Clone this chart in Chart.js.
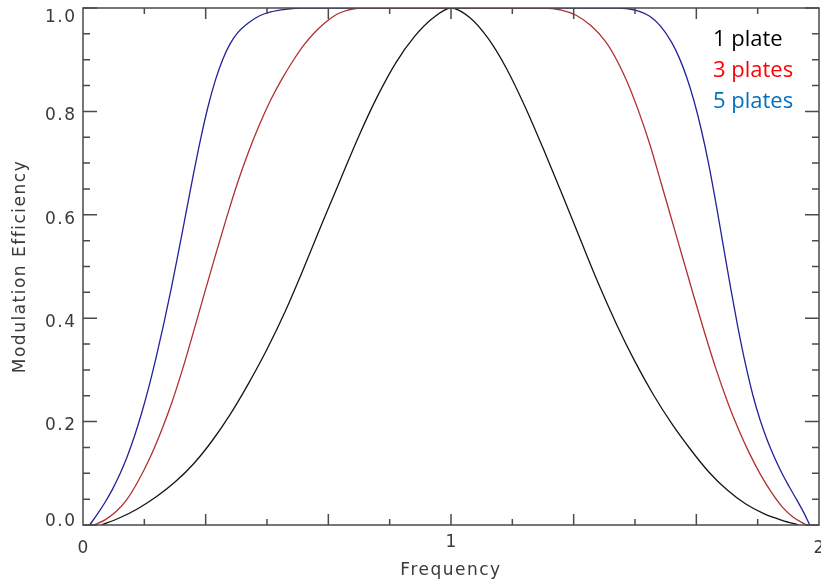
<!DOCTYPE html>
<html>
<head>
<meta charset="utf-8">
<script src="https://cdn.jsdelivr.net/npm/chart.js@4.4.1/dist/chart.umd.min.js"></script>
<style>
  html, body { margin: 0; padding: 0; background: #fff; }
</style>
</head>
<body>
<canvas id="chart" width="821" height="584"></canvas>
<script>
// 1 plate (black)
const freq1 = [0.05, 0.1, 0.15, 0.2, 0.25, 0.3, 0.35, 0.4, 0.45, 0.5, 0.55, 0.6, 0.65, 0.7, 0.75,
  0.8, 0.85, 0.9, 0.95, 1.0, 1.05, 1.1, 1.15, 1.2, 1.25, 1.3, 1.35, 1.4, 1.45, 1.5, 1.55, 1.6,
  1.65, 1.7, 1.75, 1.8, 1.85, 1.9, 1.944];
const eff1 = [0, 0.014, 0.032, 0.055, 0.083, 0.118, 0.162, 0.214, 0.274, 0.34, 0.414, 0.497,
  0.584, 0.669, 0.753, 0.829, 0.894, 0.944, 0.98, 1.0, 0.982, 0.942, 0.884, 0.811, 0.729, 0.643,
  0.555, 0.468, 0.388, 0.316, 0.252, 0.196, 0.147, 0.103, 0.068, 0.041, 0.022, 0.009, 0];

// 3 plates (red)
const freq3 = [0.03, 0.06, 0.09, 0.12, 0.15, 0.18, 0.21, 0.24, 0.27, 0.3, 0.33, 0.36, 0.39, 0.42,
  0.45, 0.48, 0.51, 0.54, 0.57, 0.6, 0.63, 0.66, 0.69, 0.72, 0.76, 0.85, 1.0, 1.15, 1.25, 1.3,
  1.34, 1.38, 1.42, 1.45, 1.48, 1.51, 1.54, 1.57, 1.6, 1.63, 1.66, 1.69, 1.72, 1.75, 1.78, 1.81,
  1.84, 1.87, 1.9, 1.93, 1.966];
const eff3 = [0, 0.01, 0.026, 0.05, 0.085, 0.127, 0.177, 0.234, 0.3, 0.373, 0.448, 0.522, 0.594,
  0.662, 0.722, 0.775, 0.822, 0.862, 0.897, 0.928, 0.953, 0.973, 0.988, 0.996, 1.0, 1.0, 1.0, 1.0,
  1.0, 0.996, 0.986, 0.966, 0.935, 0.9, 0.855, 0.8, 0.737, 0.664, 0.59, 0.516, 0.442, 0.37,
  0.302, 0.241, 0.187, 0.14, 0.099, 0.064, 0.035, 0.015, 0];

// 5 plates (blue)
const freq5 = [0.018, 0.04, 0.06, 0.08, 0.1, 0.12, 0.14, 0.16, 0.18, 0.2, 0.22, 0.24, 0.26, 0.28,
  0.3, 0.32, 0.34, 0.36, 0.38, 0.4, 0.42, 0.45, 0.48, 0.51, 0.55, 0.6, 1.0, 1.45, 1.5, 1.54,
  1.57, 1.6, 1.62, 1.64, 1.66, 1.68, 1.7, 1.72, 1.74, 1.76, 1.78, 1.8, 1.82, 1.84, 1.86, 1.88,
  1.9, 1.92, 1.94, 1.96, 1.975];
const eff5 = [0, 0.022, 0.044, 0.069, 0.098, 0.132, 0.172, 0.218, 0.27, 0.328, 0.391, 0.458,
  0.53, 0.604, 0.678, 0.748, 0.81, 0.861, 0.901, 0.931, 0.952, 0.9715, 0.985, 0.9925, 0.9975,
  1.0, 1.0, 1.0, 0.996, 0.984, 0.9645, 0.933, 0.904, 0.867, 0.821, 0.765, 0.699, 0.622, 0.54,
  0.458, 0.381, 0.312, 0.252, 0.203, 0.163, 0.129, 0.099, 0.073, 0.048, 0.022, 0];

const seriesNames = ["1 plate", "3 plates", "5 plates"];
const lineColors = ["#151515", "#b03030", "#22229a"];
const legendColors = ["#000000", "#ff0000", "#0070c0"];

const xTickLabels = [0, 1, 2];
const xMajorTicks = [1 / 3, 2 / 3, 1, 4 / 3, 5 / 3];
const xMinorTicks = [1 / 6, 1 / 2, 5 / 6, 7 / 6, 3 / 2, 11 / 6];
const yMajorTicks = [0, 0.2, 0.4, 0.6, 0.8, 1.0];
const yMinorTicks = [0.05, 0.1, 0.15, 0.25, 0.3, 0.35, 0.45, 0.5, 0.55, 0.65, 0.7, 0.75, 0.85, 0.9, 0.95];

const axisColor = "#4a4a4a";
const textColor = "#3a3a3a";
const axisFont = { family: "'DejaVu Sans'", size: 17 };

function toPoints(xs, ys) {
  return xs.map((x, i) => ({ x: x, y: ys[i] }));
}

// letter spacing for the IDL-like axis text
const spacingPlugin = {
  id: "spacing",
  beforeDraw(chart) {
    chart.ctx.letterSpacing = "1.5px";
  },
};

// box round the plot with inward ticks on all four sides
const framePlugin = {
  id: "frame",
  afterDatasetsDraw(chart) {
    const { ctx, chartArea: a } = chart;
    const xs = chart.scales.x;
    const ys = chart.scales.y;
    ctx.save();
    ctx.strokeStyle = axisColor;
    ctx.lineWidth = 1.5;
    ctx.strokeRect(a.left, a.top, a.right - a.left, a.bottom - a.top);

    ctx.beginPath();
    const xTick = (v, len) => {
      const px = xs.getPixelForValue(v);
      ctx.moveTo(px, a.bottom);
      ctx.lineTo(px, a.bottom - len);
      ctx.moveTo(px, a.top);
      ctx.lineTo(px, a.top + len);
    };
    const yTick = (v, len) => {
      const py = ys.getPixelForValue(v);
      ctx.moveTo(a.left, py);
      ctx.lineTo(a.left + len, py);
      ctx.moveTo(a.right, py);
      ctx.lineTo(a.right - len, py);
    };
    xMajorTicks.forEach((v) => xTick(v, 11));
    xMinorTicks.forEach((v) => xTick(v, 6));
    yMajorTicks.forEach((v) => yTick(v, 14));
    yMinorTicks.forEach((v) => yTick(v, 7));
    ctx.stroke();

    // tick labels, nudged like the original (end labels kept inside the frame)
    ctx.fillStyle = textColor;
    ctx.font = axisFont.size + "px " + axisFont.family;
    ctx.letterSpacing = "1.5px";
    ctx.textBaseline = "alphabetic";
    ctx.textAlign = "right";
    yMajorTicks.forEach((v) => {
      const shift = v === 0 ? 0.7 : v === 1 ? 14 : 8.8;
      ctx.fillText(v.toFixed(1), a.left - 6.5, ys.getPixelForValue(v) + shift);
    });
    ctx.textAlign = "center";
    xTickLabels.forEach((v) => {
      const base = v === 1 ? 547 : 553;
      ctx.fillText(String(v), xs.getPixelForValue(v) + 0.75, base);
    });
    ctx.restore();
  },
};

// coloured text legend in the upper right
const legendTextPlugin = {
  id: "legendText",
  afterDraw(chart) {
    const { ctx, chartArea: a } = chart;
    ctx.save();
    ctx.letterSpacing = "0px";
    ctx.font = "22px 'Open Sans'";
    ctx.textAlign = "left";
    ctx.textBaseline = "alphabetic";
    seriesNames.forEach((name, i) => {
      ctx.fillStyle = legendColors[i];
      ctx.fillText(name, a.right - 106, a.top + 38 + i * 31);
    });
    ctx.restore();
  },
};

new Chart(document.getElementById("chart"), {
  type: "line",
  data: {
    datasets: [
      { label: seriesNames[0], data: toPoints(freq1, eff1), borderColor: lineColors[0] },
      { label: seriesNames[1], data: toPoints(freq3, eff3), borderColor: lineColors[1] },
      { label: seriesNames[2], data: toPoints(freq5, eff5), borderColor: lineColors[2] },
    ].map((d) => Object.assign(d, {
      borderWidth: 1.3,
      pointRadius: 0,
      fill: false,
      cubicInterpolationMode: "monotone",
    })),
  },
  options: {
    responsive: false,
    animation: false,
    devicePixelRatio: 1,
    layout: { padding: { top: 8, right: 2, left: 0, bottom: 0 } },
    plugins: {
      legend: { display: false },
      tooltip: { enabled: false },
    },
    scales: {
      x: {
        type: "linear",
        min: 0,
        max: 2,
        grid: { display: false, drawTicks: false },
        border: { display: false },
        afterFit(scale) {
          scale.height = 59;
          scale.paddingLeft = 0;
          scale.paddingRight = 0;
        },
        ticks: { display: false },
        title: {
          display: true,
          text: "Frequency",
          color: textColor,
          font: axisFont,
          padding: { top: 0, bottom: 3 },
        },
      },
      y: {
        min: 0,
        max: 1,
        grid: { display: false, drawTicks: false },
        border: { display: false },
        afterFit(scale) {
          scale.width = 83;
          scale.paddingTop = 0;
          scale.paddingBottom = 0;
        },
        ticks: { display: false },
        title: {
          display: true,
          text: "Modulation Efficiency",
          color: textColor,
          font: axisFont,
          padding: { top: 10, bottom: 0 },
        },
      },
    },
  },
  plugins: [spacingPlugin, framePlugin, legendTextPlugin],
});
</script>
</body>
</html>
